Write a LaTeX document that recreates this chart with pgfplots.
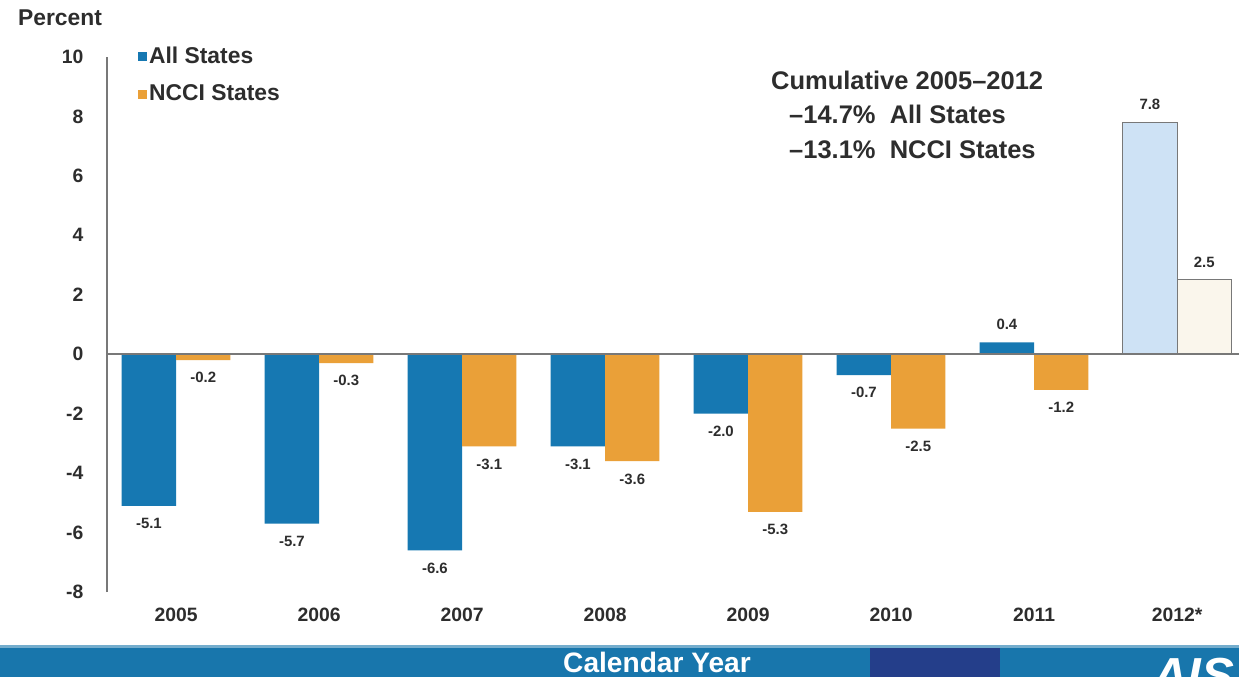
\documentclass[border=0pt]{standalone}
\usepackage{pgfplots}
\pgfplotsset{compat=1.18}
\usepackage{fontspec}
\setmainfont{Liberation Sans}

\definecolor{allblue}{RGB}{22,120,178}
\definecolor{ncciorange}{RGB}{234,160,56}
\definecolor{projblue}{RGB}{206,226,245}
\definecolor{projcream}{RGB}{250,246,236}
\definecolor{axisgray}{RGB}{120,120,120}
\definecolor{labelgray}{RGB}{45,45,45}
\definecolor{bandblue}{RGB}{24,118,172}
\definecolor{bandnavy}{RGB}{36,62,138}

\begin{document}
\begin{tikzpicture}
% page frame, 1239 x 677 px at 0.02cm per px
\fill[white] (0,0) rectangle (24.78cm,-13.54cm);

\begin{axis}[
    at={(2.14cm,-11.84cm)}, anchor=south west,
    scale only axis, width=22.64cm, height=10.7cm,
    clip=false,
    ymin=-8, ymax=10, xmin=-0.483, xmax=7.433,
    ybar, bar width=0.38,
    axis lines*=left,
    x axis line style={draw=none},
    y axis line style={draw=axisgray, line width=1pt},
    ytick={-8,-6,...,10},
    yticklabels={-8,-6,-4,-2,0,2,4,6,8,10},
    xtick={0,...,7},
    xticklabels={2005,2006,2007,2008,2009,2010,2011,2012*},
    major tick length=0pt,
    ticklabel style={font=\fontsize{11}{13}\selectfont\bfseries, text=labelgray},
    yticklabel style={xshift=-0.35cm},
    xticklabel style={yshift=-0.2cm},
    point meta=y,
    nodes near coords={\pgfmathprintnumber[assume math mode=true, fixed, fixed zerofill, precision=1]{\pgfplotspointmeta}},
    nodes near coords align=vertical,
    every node near coord/.append style={font=\fontsize{8.5}{10}\selectfont\bfseries,
        text=labelgray, inner sep=0.24cm},
    legend style={at={(0.0274,1.022)}, anchor=north west, draw=none, fill=none,
        font=\fontsize{13}{15}\selectfont\bfseries, text=labelgray,
        row sep=0.3cm, inner sep=0pt,
        nodes={inner sep=1pt}},
    legend cell align=left,
    legend image code/.code={\fill[#1,draw=none] (0cm,-0.09cm) rectangle (0.18cm,0.09cm);},
]
\addplot[fill=allblue, draw=none, bar shift=-0.19] coordinates {
    (0,-5.1)
    (1,-5.7)
    (2,-6.6)
    (3,-3.1)
    (4,-2.0)
    (5,-0.7)
    (6,0.4)
};
\addlegendentry{All States}
\addplot[fill=ncciorange, draw=none, bar shift=0.19] coordinates {
    (0,-0.2)
    (1,-0.3)
    (2,-3.1)
    (3,-3.6)
    (4,-5.3)
    (5,-2.5)
    (6,-1.2)
};
\addlegendentry{NCCI States}
% 2012 projections
\addplot[fill=projblue, draw=axisgray, line width=0.6pt, bar shift=-0.19, forget plot]
    coordinates {(7,7.8)};
\addplot[fill=projcream, draw=axisgray, line width=0.6pt, bar shift=0.19, forget plot]
    coordinates {(7,2.5)};

\draw[axisgray, line width=1pt] (axis cs:-0.483,0) -- (axis cs:7.433,0);
\end{axis}

\node[font=\fontsize{13}{15}\selectfont\bfseries, text=labelgray] at (1.2cm,-0.36cm) {Percent};

\node[anchor=west, font=\fontsize{14.5}{17}\selectfont\bfseries, text=labelgray]
    at (15.3cm,-1.6cm) {Cumulative 2005--2012};
\node[anchor=west, font=\fontsize{14.5}{17}\selectfont\bfseries, text=labelgray]
    at (15.66cm,-2.28cm) {--14.7\%\ \ All States};
\node[anchor=west, font=\fontsize{14.5}{17}\selectfont\bfseries, text=labelgray]
    at (15.66cm,-3.0cm) {--13.1\%\ \ NCCI States};

% bottom band
\fill[bandblue] (0,-12.9cm) rectangle (24.78cm,-13.54cm);
\fill[bandblue!60!white] (0,-12.9cm) rectangle (24.78cm,-12.96cm);
\fill[bandnavy] (17.4cm,-12.96cm) rectangle (20.0cm,-13.54cm);
\node[white, font=\fontsize{16}{18}\selectfont\bfseries] at (13.14cm,-13.25cm) {Calendar Year};
\begin{scope}
\clip (0,-12.96cm) rectangle (24.78cm,-13.54cm);
\node[anchor=base west, white, inner sep=0pt, font=\fontsize{28}{30}\selectfont\bfseries\itshape]
    at (23.04cm,-13.84cm) {AIS};
\end{scope}

\pgfresetboundingbox
\useasboundingbox (0,0) rectangle (24.78cm,-13.54cm);
\end{tikzpicture}
\end{document}
